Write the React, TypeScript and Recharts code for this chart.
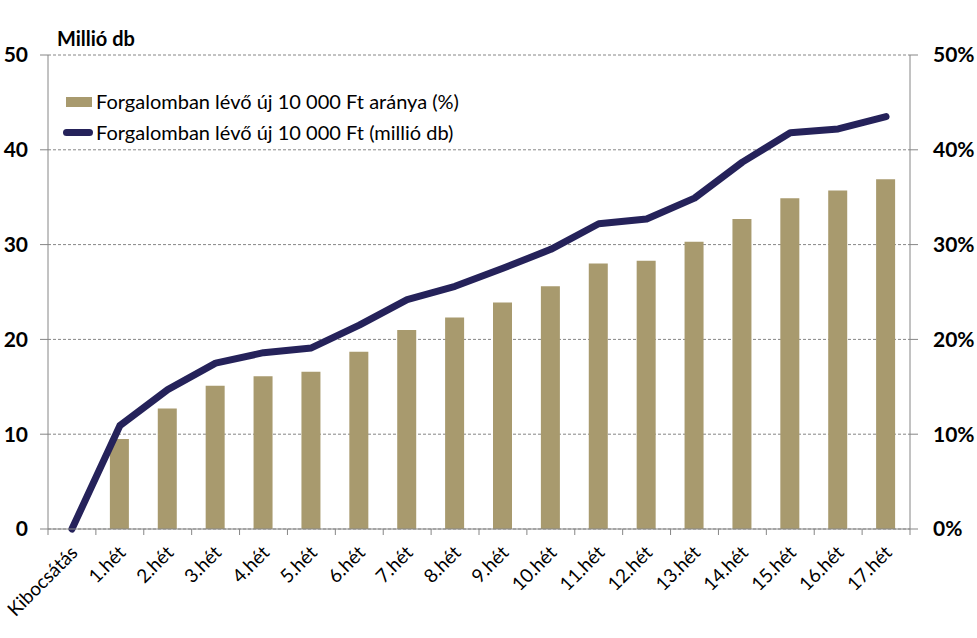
import { ComposedChart, Bar, Line, XAxis, YAxis, CartesianGrid } from 'recharts';

const categories = [
  'Kibocsátás', '1.hét', '2.hét', '3.hét', '4.hét', '5.hét', '6.hét', '7.hét', '8.hét',
  '9.hét', '10.hét', '11.hét', '12.hét', '13.hét', '14.hét', '15.hét', '16.hét', '17.hét',
];

// share of new 10 000 Ft notes in circulation (%), right axis
const sharePct = [null, 9.5, 12.7, 15.1, 16.1, 16.6, 18.7, 21.0, 22.3, 23.9, 25.6, 28.0, 28.3, 30.3, 32.7, 34.9, 35.7, 36.9];

// new 10 000 Ft notes in circulation (million pcs), left axis
const millionPcs = [0, 10.9, 14.7, 17.5, 18.6, 19.1, 21.5, 24.2, 25.6, 27.5, 29.5, 32.2, 32.7, 34.9, 38.7, 41.8, 42.2, 43.5];

const yTicks = [0, 10, 20, 30, 40, 50];

const barName = 'Forgalomban lévő új 10 000 Ft aránya (%)';
const lineName = 'Forgalomban lévő új 10 000 Ft (millió db)';

const data = categories.map((name, i) => ({ name, share: sharePct[i], pcs: millionPcs[i] }));

const FONT = 'Lato, "Open Sans", sans-serif';
const BAR_COLOR = '#A89A6E';
const LINE_COLOR = '#25225A';
const AXIS_COLOR = '#868686';

const W = 977;
const H = 638;
const LEFT_W = 48;
const RIGHT_W = 67;
const BAND = (W - LEFT_W - RIGHT_W) / categories.length;

function CategoryTick(props: any) {
  const { x, y, payload, index } = props;
  const left = x - BAND / 2;
  const last = index === categories.length - 1;
  return (
    <g>
      <line x1={left} x2={left} y1={y} y2={y + 6} stroke={AXIS_COLOR} />
      {last && <line x1={x + BAND / 2} x2={x + BAND / 2} y1={y} y2={y + 6} stroke={AXIS_COLOR} />}
      <text
        transform={`translate(${x + 7},${y + 25}) rotate(-45)`}
        textAnchor="end"
        fontSize={19}
        fontFamily={FONT}
        fill="#000"
      >
        {payload.value}
      </text>
    </g>
  );
}

function LegendBox() {
  return (
    <div style={{ position: 'absolute', left: 63, top: 86, fontFamily: FONT, fontSize: 20, color: '#000', lineHeight: '31px', whiteSpace: 'nowrap' }}>
      <div style={{ display: 'flex', alignItems: 'center' }}>
        <span style={{ display: 'inline-block', width: 26, height: 10, background: BAR_COLOR, marginRight: 4, marginLeft: 3 }} />
        {barName}
      </div>
      <div style={{ display: 'flex', alignItems: 'center' }}>
        <span style={{ display: 'inline-block', width: 30, height: 7, borderRadius: 4, background: LINE_COLOR, marginRight: 3 }} />
        {lineName}
      </div>
    </div>
  );
}

export default function App() {
  const tickStyle = { fontFamily: FONT, fontSize: 21, fontWeight: 700, fill: '#000' };
  return (
    <div style={{ position: 'absolute', left: 0, top: 0, width: W, height: H, background: '#fff' }}>
      <ComposedChart width={W} height={H} data={data} margin={{ top: 55, right: 0, left: 0, bottom: 0 }} barSize={19}>
        <CartesianGrid yAxisId="left" vertical={false} stroke={AXIS_COLOR} strokeDasharray="3 2" />
        <XAxis
          dataKey="name"
          height={109}
          tickSize={0}
          tickMargin={0}
          interval={0}
          axisLine={{ stroke: AXIS_COLOR }}
          tickLine={false}
          tick={<CategoryTick />}
        />
        <YAxis
          yAxisId="left"
          domain={[0, 50]}
          ticks={yTicks}
          width={LEFT_W}
          tickSize={8}
          tickMargin={12}
          axisLine={{ stroke: AXIS_COLOR }}
          tickLine={{ stroke: AXIS_COLOR }}
          tick={tickStyle}
        />
        <YAxis
          yAxisId="right"
          orientation="right"
          domain={[0, 50]}
          ticks={yTicks}
          width={RIGHT_W}
          tickSize={8}
          tickMargin={15}
          axisLine={{ stroke: AXIS_COLOR }}
          tickLine={{ stroke: AXIS_COLOR }}
          tick={{ ...tickStyle, textAnchor: 'start' }}
          tickFormatter={(v: number) => `${v}%`}
        />
        <Bar yAxisId="right" dataKey="share" name={barName} fill={BAR_COLOR} isAnimationActive={false} />
        <Line
          yAxisId="left"
          dataKey="pcs"
          name={lineName}
          type="linear"
          stroke={LINE_COLOR}
          strokeWidth={7}
          strokeLinejoin="round"
          strokeLinecap="round"
          dot={false}
          activeDot={false}
          isAnimationActive={false}
        />
      </ComposedChart>
      <div style={{ position: 'absolute', left: 57, top: 26, fontFamily: FONT, fontSize: 20, fontWeight: 700 }}>
        Millió db
      </div>
      <LegendBox />
    </div>
  );
}
